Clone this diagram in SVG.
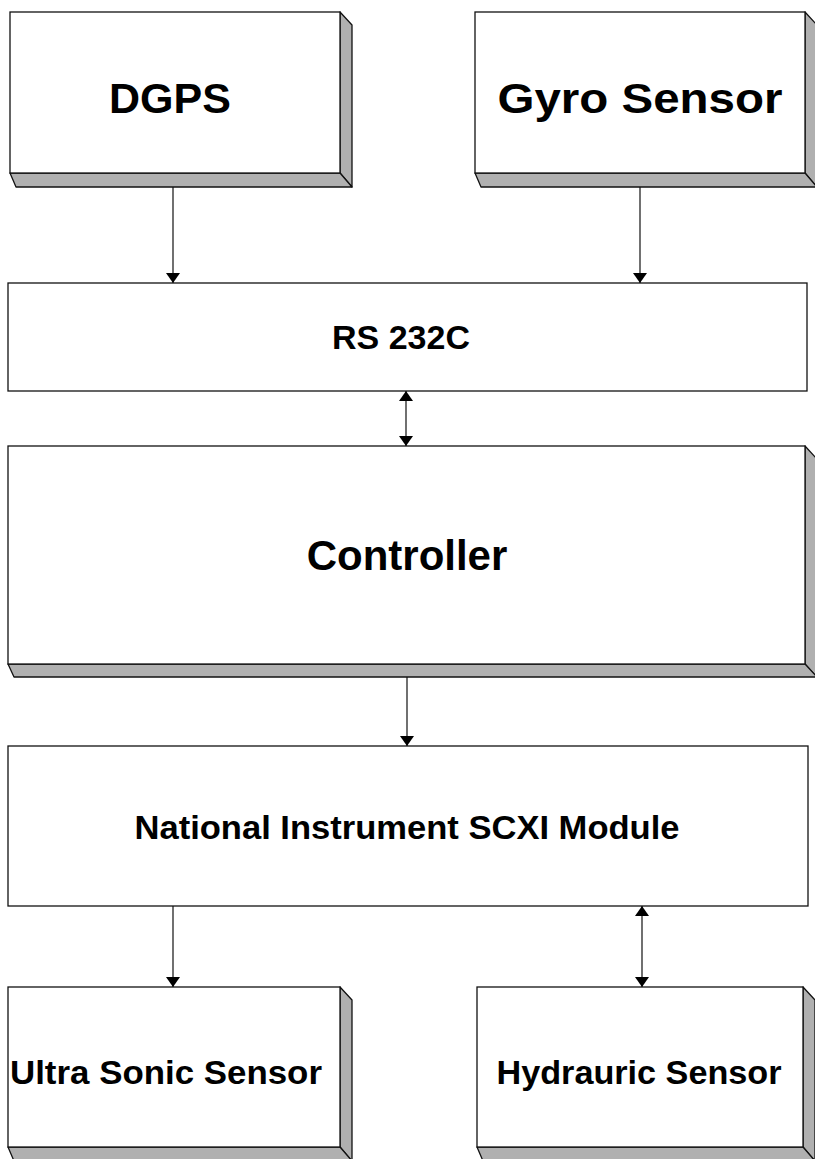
<svg xmlns="http://www.w3.org/2000/svg" width="815" height="1159" viewBox="0 0 815 1159">
<style>
.face{fill:#fff;stroke:#111;stroke-width:1.3}
.bevel{fill:#b0b0b0;stroke:#111;stroke-width:1.3;stroke-linejoin:round}
.plain{fill:#fff;stroke:#111;stroke-width:1.3}
.t{font-family:"Liberation Sans",Arial,sans-serif;font-weight:bold;fill:#000;text-anchor:middle}
.c{stroke:#111;stroke-width:1.2;fill:none}
</style>
<defs>
<marker id="ah" viewBox="0 0 10 14" refX="10" refY="7" markerWidth="10" markerHeight="14" markerUnits="userSpaceOnUse" orient="auto-start-reverse">
<path d="M0,0 L10,7 L0,14 Z" fill="#000"/>
</marker>
</defs>
<rect width="815" height="1159" fill="#fff"/>

<g id="dgps">
<polygon class="bevel" points="340,12 352,25 352,187 340,173"/>
<polygon class="bevel" points="10,173 340,173 352,187 16,187"/>
<rect class="face" x="10" y="12" width="330" height="161"/>
<text class="t" x="170" y="113" font-size="43">DGPS</text>
</g>

<g id="gyro">
<polygon class="bevel" points="805,12 817,25 817,187 805,173"/>
<polygon class="bevel" points="475,173 805,173 817,187 481,187"/>
<rect class="face" x="475" y="12" width="330" height="161"/>
<text class="t" x="640" y="113" font-size="43" textLength="285" lengthAdjust="spacingAndGlyphs">Gyro Sensor</text>
</g>

<g id="rs232c">
<rect class="plain" x="8" y="283" width="799" height="108"/>
<text class="t" x="401" y="349" font-size="33" textLength="138" lengthAdjust="spacingAndGlyphs">RS 232C</text>
</g>

<g id="controller">
<polygon class="bevel" points="805,446 817,459 817,677 805,664"/>
<polygon class="bevel" points="8,664 805,664 817,677 14,677"/>
<rect class="face" x="8" y="446" width="797" height="218"/>
<text class="t" x="407" y="570" font-size="42">Controller</text>
</g>

<g id="ni-scxi">
<rect class="plain" x="8" y="746" width="800" height="160"/>
<text class="t" x="407" y="839" font-size="33" textLength="545" lengthAdjust="spacingAndGlyphs">National Instrument SCXI Module</text>
</g>

<g id="ultrasonic">
<polygon class="bevel" points="340,987 352,1000 352,1161 340,1147"/>
<polygon class="bevel" points="8,1147 340,1147 352,1161 14,1161"/>
<rect class="face" x="8" y="987" width="332" height="160"/>
<text class="t" x="166" y="1084" font-size="34" textLength="312" lengthAdjust="spacingAndGlyphs">Ultra Sonic Sensor</text>
</g>

<g id="hydrauric">
<polygon class="bevel" points="803,987 815,1000 815,1161 803,1147"/>
<polygon class="bevel" points="477,1147 803,1147 815,1161 483,1161"/>
<rect class="face" x="477" y="987" width="326" height="160"/>
<text class="t" x="639" y="1084" font-size="34" textLength="285" lengthAdjust="spacingAndGlyphs">Hydrauric Sensor</text>
</g>

<g id="connectors">
<line class="c" x1="173" y1="187" x2="173" y2="283" marker-end="url(#ah)"/>
<line class="c" x1="640" y1="187" x2="640" y2="283" marker-end="url(#ah)"/>
<line class="c" x1="406" y1="391" x2="406" y2="446" marker-start="url(#ah)" marker-end="url(#ah)"/>
<line class="c" x1="407" y1="677" x2="407" y2="746" marker-end="url(#ah)"/>
<line class="c" x1="173" y1="906" x2="173" y2="987" marker-end="url(#ah)"/>
<line class="c" x1="642" y1="906" x2="642" y2="987" marker-start="url(#ah)" marker-end="url(#ah)"/>
</g>
</svg>
